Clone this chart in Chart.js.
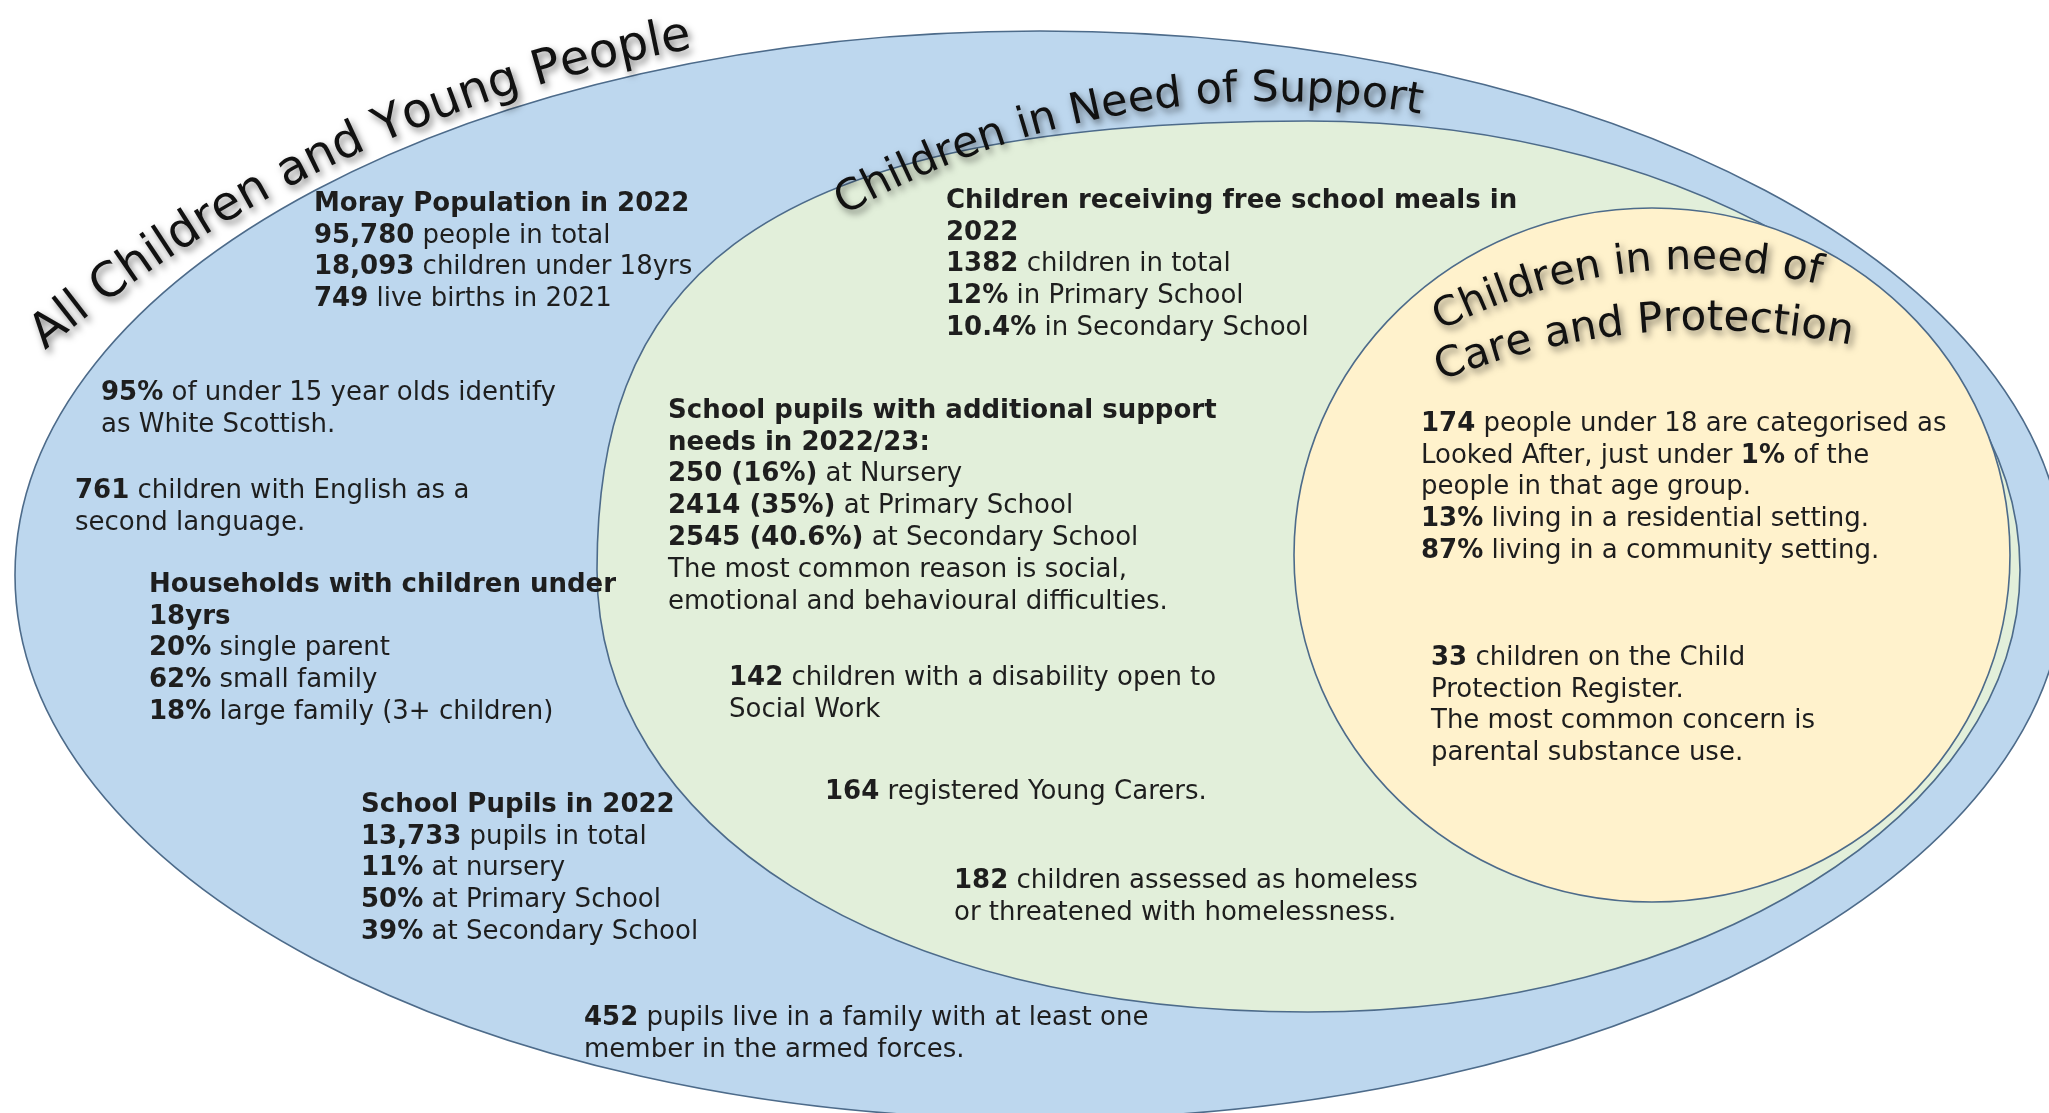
<!DOCTYPE html>
<html lang="en">
<head>
<meta charset="UTF-8">
<title>Children and Young People in Moray</title>
<script src="https://cdn.jsdelivr.net/npm/chart.js"></script>
<style>
  html, body { margin: 0; padding: 0; background: #fff; }
</style>
</head>
<body>
<canvas id="venn" width="2049" height="1113"></canvas>
<script>
// ---- the three groups (outer to inner) ----
const groupTitles = ['All Children and Young People', 'Children in Need of Support', 'Children in need of', 'Care and Protection'];

// ---- figures, one array per text box ("**" marks bold) ----
const populationLines = ['**Moray Population in 2022**', '**95,780** people in total', '**18,093** children under 18yrs', '**749** live births in 2021'];
const ethnicityLines = ['**95%** of under 15 year olds identify', 'as White Scottish.'];
const languageLines = ['**761** children with English as a', 'second language.'];
const householdLines = ['**Households with children under**', '**18yrs**', '**20%** single parent', '**62%** small family', '**18%** large family (3+ children)'];
const schoolLines = ['**School Pupils in 2022**', '**13,733** pupils in total', '**11%** at nursery', '**50%** at Primary School', '**39%** at Secondary School'];
const armedForcesLines = ['**452** pupils live in a family with at least one', 'member in the armed forces.'];
const mealsLines = ['**Children receiving free school meals in**', '**2022**', '**1382** children in total', '**12%** in Primary School', '**10.4%** in Secondary School'];
const asnLines = ['**School pupils with additional support**', '**needs in 2022/23:**', '**250 (16%)** at Nursery', '**2414 (35%)** at Primary School', '**2545 (40.6%)** at Secondary School', 'The most common reason is social,', 'emotional and behavioural difficulties.'];
const disabilityLines = ['**142** children with a disability open to', 'Social Work'];
const carersLines = ['**164** registered Young Carers.'];
const homelessLines = ['**182** children assessed as homeless', 'or threatened with homelessness.'];
const lookedAfterLines = ['**174** people under 18 are categorised as', 'Looked After, just under **1%** of the', 'people in that age group.', '**13%** living in a residential setting.', '**87%** living in a community setting.'];
const protectionLines = ['**33** children on the Child', 'Protection Register.', 'The most common concern is', 'parental substance use.'];

// ---- layout, in axis units (x 0..2049, y 0..1113 top down) ----
const FONT = '"DejaVu Sans", Verdana, sans-serif';
const K = 0.5523;
const shapes = [
    { cx: 1040, cy: 575, rl: 1025, rr: 1025, rt: 544, rb: 544, k: [[K, K], [K, K], [K, K], [K, K]], fill: '#bdd7ee' },
    { cx: 1308, cy: 570, rl: 711, rr: 712, rt: 449, rb: 442, k: [[0.6, 0.82], [K, K], [K, K], [0.58, 0.6]], fill: '#e2efda' },
    { cx: 1652, cy: 555, rl: 358, rr: 358, rt: 347, rb: 347, k: [[K, K], [K, K], [K, K], [K, K]], fill: '#fff2cc' }
];
const titleArcs = [
    { cx: 941, cy: 1426, r: 1400, mid: -115, size: 48 },
    { cx: 1273, cy: 962, r: 861, mid: -100, size: 43 },
    { cx: 1692, cy: 812, r: 543, mid: -97, size: 41 },
    { cx: 1706, cy: 1049, r: 719, mid: -95, size: 42 }
];
const blocks = [
    { lines: populationLines, x: 314, y: 204 },
    { lines: ethnicityLines, x: 101, y: 393 },
    { lines: languageLines, x: 75, y: 491 },
    { lines: householdLines, x: 149, y: 585 },
    { lines: schoolLines, x: 361, y: 805 },
    { lines: armedForcesLines, x: 584, y: 1018 },
    { lines: mealsLines, x: 946, y: 201 },
    { lines: asnLines, x: 668, y: 411 },
    { lines: disabilityLines, x: 729, y: 678 },
    { lines: carersLines, x: 825, y: 792 },
    { lines: homelessLines, x: 954, y: 881 },
    { lines: lookedAfterLines, x: 1421, y: 424 },
    { lines: protectionLines, x: 1431, y: 658 }
];
const lineStep = 31.8;
const textSize = 26;

function drawShape(ctx, s, X, Y, sx, sy) {
    const cx = X(s.cx), cy = Y(s.cy);
    const rl = s.rl * sx, rr = s.rr * sx, rt = s.rt * sy, rb = s.rb * sy;
    const [tl, tr, br, bl] = s.k;
    ctx.beginPath();
    ctx.moveTo(cx - rl, cy);
    ctx.bezierCurveTo(cx - rl, cy - tl[0] * rt, cx - tl[1] * rl, cy - rt, cx, cy - rt);
    ctx.bezierCurveTo(cx + tr[1] * rr, cy - rt, cx + rr, cy - tr[0] * rt, cx + rr, cy);
    ctx.bezierCurveTo(cx + rr, cy + br[0] * rb, cx + br[1] * rr, cy + rb, cx, cy + rb);
    ctx.bezierCurveTo(cx - bl[1] * rl, cy + rb, cx - rl, cy + bl[0] * rb, cx - rl, cy);
    ctx.closePath();
    ctx.fillStyle = s.fill;
    ctx.fill();
    ctx.lineWidth = 1.6;
    ctx.strokeStyle = '#4d6b8a';
    ctx.stroke();
}

function drawArcText(ctx, text, cx, cy, r, midDeg, size) {
    ctx.font = size + 'px ' + FONT;
    const chars = [...text];
    const widths = chars.map(ch => ctx.measureText(ch).width);
    const total = widths.reduce((a, b) => a + b, 0);
    let a = midDeg * Math.PI / 180 - total / r / 2;
    chars.forEach((ch, i) => {
        const am = a + widths[i] / 2 / r;
        ctx.save();
        ctx.translate(cx + r * Math.cos(am), cy + r * Math.sin(am));
        ctx.rotate(am + Math.PI / 2);
        ctx.fillText(ch, 0, 0);
        ctx.restore();
        a += widths[i] / r;
    });
}

function drawRichLine(ctx, line, x, y) {
    let px = x;
    line.split('**').forEach((part, i) => {
        if (!part) return;
        ctx.font = (i % 2 ? 'bold ' : '') + textSize + 'px ' + FONT;
        ctx.fillText(part, px, y);
        px += ctx.measureText(part).width;
    });
}

const vennPlugin = {
    id: 'venn',
    afterDatasetsDraw(chart) {
        const ctx = chart.ctx;
        const X = v => chart.scales.x.getPixelForValue(v);
        const Y = v => chart.scales.y.getPixelForValue(v);
        const sx = X(1) - X(0), sy = Y(1) - Y(0);
        ctx.save();
        shapes.forEach(s => drawShape(ctx, s, X, Y, sx, sy));

        // curved group titles with a soft shadow
        ctx.fillStyle = '#111';
        ctx.textAlign = 'center';
        ctx.textBaseline = 'alphabetic';
        ctx.shadowColor = 'rgba(0,0,0,0.5)';
        ctx.shadowBlur = 7;
        ctx.shadowOffsetX = 3;
        ctx.shadowOffsetY = 4;
        titleArcs.forEach((t, i) => drawArcText(ctx, groupTitles[i], X(t.cx), Y(t.cy), t.r * sx, t.mid, t.size));
        ctx.shadowColor = 'transparent';

        // text boxes
        ctx.fillStyle = '#1e1e1e';
        ctx.textAlign = 'left';
        ctx.textBaseline = 'middle';
        blocks.forEach(b => b.lines.forEach((l, j) => drawRichLine(ctx, l, X(b.x), Y(b.y + j * lineStep))));
        ctx.restore();
    }
};

new Chart(document.getElementById('venn'), {
    type: 'scatter',
    data: { datasets: [{ data: [] }] },
    options: {
        responsive: false,
        animation: false,
        layout: { padding: 0 },
        plugins: { legend: { display: false }, tooltip: { enabled: false } },
        scales: {
            x: { type: 'linear', min: 0, max: 2049, display: false },
            y: { type: 'linear', min: 0, max: 1113, reverse: true, display: false }
        }
    },
    plugins: [vennPlugin]
});
</script>
</body>
</html>
